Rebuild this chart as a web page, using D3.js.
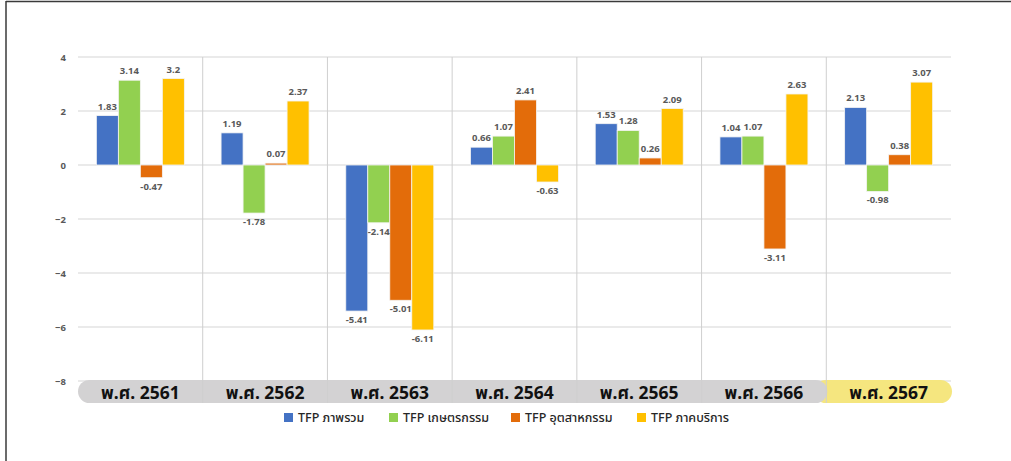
<!DOCTYPE html>
<html>
<head>
<meta charset="utf-8">
<script src="https://cdn.jsdelivr.net/npm/d3@7"></script>
<style>
  body { margin: 0; background: #fff; }
  svg text { font-family: "Noto Sans", "Noto Sans Thai", "Open Sans", sans-serif; }
</style>
</head>
<body>
<div id="chart"></div>
<script>
var years = ["พ.ศ. 2561", "พ.ศ. 2562", "พ.ศ. 2563", "พ.ศ. 2564", "พ.ศ. 2565", "พ.ศ. 2566", "พ.ศ. 2567"];
var seriesNames = ["TFP ภาพรวม", "TFP เกษตรกรรม", "TFP อุตสาหกรรม", "TFP ภาคบริการ"];
var overall     = [1.83, 1.19, -5.41, 0.66, 1.53, 1.04, 2.13];
var agriculture = [3.14, -1.78, -2.14, 1.07, 1.28, 1.07, -0.98];
var industry    = [-0.47, 0.07, -5.01, 2.41, 0.26, -3.11, 0.38];
var services    = [3.2, 2.37, -6.11, -0.63, 2.09, 2.63, 3.07];
var yTicks = [4, 2, 0, -2, -4, -6, -8];
var colors = ["#4472C4", "#92D050", "#E36C0A", "#FFC000"];

var W = 1011, H = 461;

var allSeries = [overall, agriculture, industry, services];
var data = years.map(function (y, i) {
    return { year: y, values: allSeries.map(function (s, k) { return { key: k, v: s[i] }; }) };
});

var svg = d3.select("#chart").append("svg")
    .attr("width", W)
    .attr("height", H);

// frame lines
svg.append("line").attr("x1", 6).attr("x2", W).attr("y1", 1.5).attr("y2", 1.5)
    .attr("stroke", "#3a3a3a").attr("stroke-width", 1.5);
svg.append("line").attr("x1", 6).attr("x2", 6).attr("y1", 1).attr("y2", H)
    .attr("stroke", "#3a3a3a").attr("stroke-width", 1.5);

var x0 = d3.scaleBand().domain(years).range([78, 951]);
var x1 = d3.scaleBand().domain(d3.range(4)).range([0, 88]);
var y = d3.scaleLinear().domain([-8, 4]).range([381, 57]);

// gridlines
svg.append("g").selectAll("line")
    .data(yTicks).enter()
    .append("line")
    .attr("x1", 78).attr("x2", 951)
    .attr("y1", function (d) { return y(d); })
    .attr("y2", function (d) { return y(d); })
    .attr("stroke", "#e3e3e3")
    .attr("stroke-width", 1.5);

// y axis labels
var yAxis = d3.axisLeft(y).tickValues(yTicks).tickSize(0).tickPadding(0);
svg.append("g")
    .attr("transform", "translate(66,0)")
    .call(yAxis)
    .call(function (g) { g.select(".domain").remove(); })
    .selectAll("text")
    .attr("fill", "#595959")
    .style("font-size", "9.5px")
    .style("font-weight", "bold");

// category band (highlight for last year behind)
var last = years[years.length - 1];
svg.append("rect")
    .attr("x", x0(last) - 12).attr("y", 380)
    .attr("width", x0.range()[1] - x0(last) + 12 + 1).attr("height", 23)
    .attr("rx", 11.5)
    .attr("fill", "#F5E67F");
svg.append("rect")
    .attr("x", 78).attr("y", 380)
    .attr("width", x0(last) - 78 + 1).attr("height", 23)
    .attr("rx", 11.5)
    .attr("fill", "#D3D2D3");

// category dividers
svg.append("g").selectAll("line")
    .data(years.slice(1)).enter()
    .append("line")
    .attr("x1", function (d) { return x0(d); })
    .attr("x2", function (d) { return x0(d); })
    .attr("y1", 57).attr("y2", 403)
    .attr("stroke", "#cfcfcf")
    .attr("stroke-width", 1);

// category labels
svg.append("g").selectAll("text")
    .data(years).enter()
    .append("text")
    .attr("x", function (d) { return x0(d) + x0.bandwidth() / 2; })
    .attr("y", 399)
    .attr("text-anchor", "middle")
    .attr("fill", "#111")
    .style("font-size", "17.5px")
    .style("font-weight", "bold")
    .text(function (d) { return d; });

// bars
var groups = svg.append("g").selectAll(".grp")
    .data(data).enter()
    .append("g")
    .attr("class", "grp")
    .attr("transform", function (d) { return "translate(" + (x0(d.year) + (x0.bandwidth() - 88) / 2) + ",0)"; });

groups.selectAll("rect")
    .data(function (d) { return d.values; }).enter()
    .append("rect")
    .attr("x", function (d) { return x1(d.key); })
    .attr("width", x1.bandwidth())
    .attr("y", function (d) { return y(Math.max(0, d.v)); })
    .attr("height", function (d) { return Math.abs(y(d.v) - y(0)); })
    .attr("fill", function (d) { return colors[d.key]; })
    .attr("stroke", "#f4f4f4")
    .attr("stroke-width", 0.8);

groups.selectAll("text")
    .data(function (d) { return d.values; }).enter()
    .append("text")
    .attr("x", function (d) { return x1(d.key) + x1.bandwidth() / 2; })
    .attr("y", function (d) { return d.v >= 0 ? y(d.v) - 6 : y(d.v) + 12; })
    .attr("text-anchor", "middle")
    .attr("fill", "#595959")
    .style("font-size", "9.5px")
    .style("font-weight", "bold")
    .text(function (d) { return d.v; });

// legend
var legendX = [284, 389, 511, 637];
var legend = svg.append("g").selectAll("g")
    .data(seriesNames).enter()
    .append("g")
    .attr("transform", function (d, i) { return "translate(" + legendX[i] + ",413)"; });
legend.append("rect")
    .attr("width", 9).attr("height", 9)
    .attr("fill", function (d, i) { return colors[i]; });
legend.append("text")
    .attr("x", 14).attr("y", 9)
    .attr("fill", "#262626")
    .style("font-size", "12.5px")
    .style("font-weight", 500)
    .text(function (d) { return d; });
</script>
</body>
</html>
